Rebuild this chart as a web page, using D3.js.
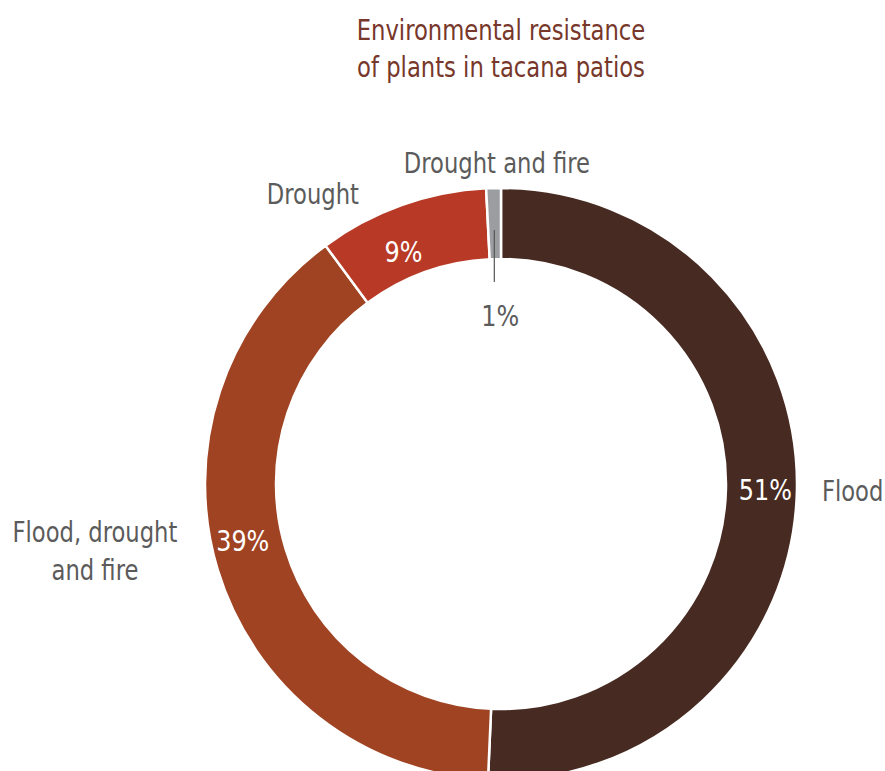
<!DOCTYPE html>
<html>
<head>
<meta charset="utf-8">
<script src="https://cdn.jsdelivr.net/npm/d3@7"></script>
<style>
  body { margin: 0; background: #fff; }
  text { font-family: "Liberation Sans Narrow", "DejaVu Sans Condensed", sans-serif; }
</style>
</head>
<body>
<div id="main"></div>
<script>
// values (labels are the rounded ones)
const categories = ["Flood", "Flood, drought and fire", "Drought", "Drought and fire"];
const shares = [50.7, 39.2, 9.3, 0.8];
const pctLabels = ["51%", "39%", "9%", "1%"];
const titleLines = ["Environmental resistance", "of plants in tacana patios"];

const width = 885, height = 771;
const cx = 501, cy = 484;
const outerR = 296, innerR = 225;

const colors = d3.scaleOrdinal()
    .domain(categories)
    .range(["#472a21", "#9f4323", "#b83a26", "#9b9da1"]);

const svg = d3.select("#main")
    .append("svg")
    .attr("width", width)
    .attr("height", height);

// condensed look: squeeze text horizontally around its anchor
function putText(parent, x, y, str, size, fill, anchor, sx) {
  return parent.append("g")
      .attr("transform", "translate(" + x + "," + y + ") scale(" + sx + ",1)")
    .append("text")
      .attr("text-anchor", anchor)
      .attr("dominant-baseline", "central")
      .style("font-size", size + "px")
      .style("fill", fill)
      .text(str);
}

// title
titleLines.forEach(function(line, i) {
  putText(svg, 501, 30 + i * 37, line, 29, "#77372a", "middle", 0.87);
});

const data = categories.map(function(c, i) {
  return {name: c, value: shares[i], pct: pctLabels[i]};
});

const pie = d3.pie()
    .sort(null)
    .value(function(d) { return d.value; });

const arc = d3.arc()
    .innerRadius(innerR)
    .outerRadius(outerR);

const g = svg.append("g")
    .attr("transform", "translate(" + cx + "," + cy + ")");

const arcs = pie(data);

g.selectAll("path")
    .data(arcs)
    .enter()
    .append("path")
    .attr("d", arc)
    .style("fill", function(d) { return colors(d.data.name); })
    .style("stroke", "#fff")
    .style("stroke-width", 2.5);

// percent labels, pushed a bit off the centroid where the original does
const pctNudge = {
  "Flood": [4, 1],
  "Flood, drought and fire": [-9, -19],
  "Drought": [-10, 14]
};

arcs.filter(function(d) { return pctNudge[d.data.name]; }).forEach(function(d) {
  const c = arc.centroid(d);
  const n = pctNudge[d.data.name];
  putText(g, c[0] + n[0], c[1] + n[1], d.data.pct, 28, "#fff", "middle", 0.95);
});

// the thin slice gets its label inside the hole with a leader line
const small = arcs[3];
const smallMid = (small.startAngle + small.endAngle) / 2;
const lx = Math.sin(smallMid) * (outerR - 30);
g.append("line")
    .attr("x1", lx)
    .attr("x2", lx)
    .attr("y1", -(outerR - 42))
    .attr("y2", -(innerR - 23))
    .style("stroke", "#555")
    .style("stroke-width", 1.2);
putText(g, lx + 6, -(innerR - 57), small.data.pct, 28, "#5b5b5b", "middle", 0.95);

// category labels outside the ring
const outerLabel = {
  "Flood": {anchor: "start", dx: -1, dy: 0, lines: ["Flood"]},
  "Flood, drought and fire": {anchor: "middle", dx: -98, dy: -46, lines: ["Flood, drought", "and fire"]},
  "Drought": {anchor: "middle", dx: -80, dy: 13, lines: ["Drought"]},
  "Drought and fire": {anchor: "middle", dx: 4, dy: 0, lines: ["Drought and fire"]}
};
const labelArc = d3.arc().innerRadius(outerR + 26).outerRadius(outerR + 26);

arcs.forEach(function(d) {
  const o = outerLabel[d.data.name];
  const p = labelArc.centroid(d);
  let x = p[0] + o.dx, y = p[1] + o.dy;
  if (d.data.name === "Drought and fire") { y = -(outerR + 25) + o.dy; }
  o.lines.forEach(function(line, i) {
    putText(g, x, y + i * 38, line, 28, "#5b5b5b", o.anchor, 0.9);
  });
});
</script>
</body>
</html>
